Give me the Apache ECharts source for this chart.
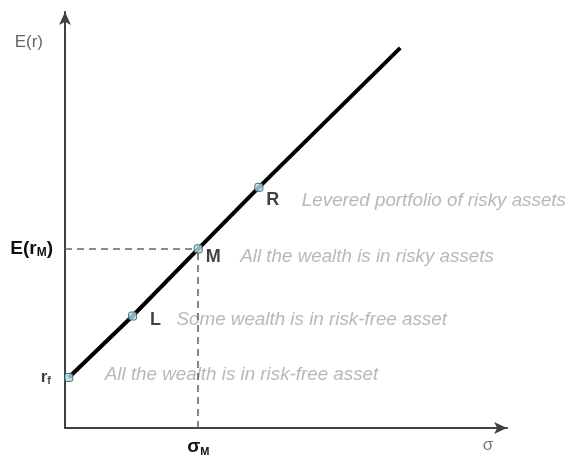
<!DOCTYPE html>
<html>
<head>
<meta charset="utf-8">
<script src="https://cdn.jsdelivr.net/npm/echarts@6/dist/echarts.min.js"></script>
<style>
  html, body { margin: 0; padding: 0; background: #fff; }
  #main { width: 570px; height: 457px; }
</style>
</head>
<body>
<div id="main"></div>
<script>
// capital allocation line: rf -> L -> M -> R -> end of line
const sigma      = [0.06, 1.07, 2.11, 3.07, 5.31];
const expReturn  = [0.79, 1.75, 2.80, 3.76, 5.94];
const pointNames = ['', 'L', 'M', 'R'];
const pointNotes = [
    'All the wealth is in risk-free asset',
    'Some wealth is in risk-free asset',
    'All the wealth is in risky assets',
    'Levered portfolio of risky assets'
];
const marketIdx = 2;

let myChart = echarts.init(document.getElementById('main'));

let linePts = sigma.map((s, i) => [s, expReturn[i]]);
let markerPts = linePts.slice(0, 4);
let mX = sigma[marketIdx], mY = expReturn[marketIdx];

// label nudges (px) so text sits like the original
let letterOffset = [[0, 0], [8, 4], [-2, 8], [-2, 13]];
let noteOffset   = [[31, -3], [39, 4], [37, 8], [38, 13]];

let font = 'Liberation Sans, Arial, sans-serif';
let axisColor = '#404040';

let option = {
    animation: false,
    grid: { left: 65, right: 63, top: 12, bottom: 29, containLabel: false },
    xAxis: {
        type: 'value',
        min: 0, max: 7,
        name: 'σ',
        nameLocation: 'end',
        nameGap: -19,
        nameTextStyle: {
            fontFamily: font, fontSize: 17, color: '#777',
            align: 'center', verticalAlign: 'top', padding: [9, 0, 0, 0]
        },
        axisLine: {
            show: true, symbol: ['none', 'arrow'], symbolSize: [9, 13],
            lineStyle: { color: axisColor, width: 2 }
        },
        axisTick: { show: false },
        axisLabel: { show: false },
        splitLine: { show: false }
    },
    yAxis: {
        type: 'value',
        min: 0, max: 6.5,
        name: 'E(r)',
        nameLocation: 'end',
        nameGap: -30,
        nameTextStyle: {
            fontFamily: font, fontSize: 17, color: '#666',
            align: 'right', verticalAlign: 'middle', padding: [0, 22, 0, 0]
        },
        axisLine: {
            show: true, symbol: ['none', 'arrow'], symbolSize: [9, 13],
            lineStyle: { color: axisColor, width: 2 }
        },
        axisTick: { show: false },
        axisLabel: { show: false },
        splitLine: { show: false }
    },
    series: [
        {
            // the line itself + dashed guides to M
            type: 'line',
            data: linePts,
            showSymbol: false,
            lineStyle: { color: '#000', width: 4 },
            z: 3,
            markLine: {
                silent: true,
                symbol: ['none', 'none'],
                lineStyle: { color: '#666', width: 1.6, type: [7, 5] },
                data: [
                    [
                        { coord: [0, mY],
                          label: {
                              show: true, position: 'start', distance: 12,
                              formatter: '{b|E(r}{s|M}{b|)}',
                              rich: {
                                  b: { fontFamily: font, fontSize: 19, fontWeight: 'bold', color: '#111' },
                                  s: { fontFamily: font, fontSize: 12, fontWeight: 'bold', color: '#111', padding: [8, 0, 0, 0] }
                              }
                          } },
                        { coord: [mX, mY] }
                    ],
                    [
                        { coord: [mX, 0],
                          label: {
                              show: true, position: 'start', distance: 8,
                              formatter: '{b|σ}{s|M}',
                              rich: {
                                  b: { fontFamily: font, fontSize: 19, fontWeight: 'bold', color: '#111' },
                                  s: { fontFamily: font, fontSize: 11, fontWeight: 'bold', color: '#111', padding: [10, 0, 0, 0] }
                              }
                          } },
                        { coord: [mX, mY] }
                    ]
                ]
            }
        },
        {
            // portfolio markers with letters
            type: 'scatter',
            data: markerPts.map((p, i) => ({
                value: p,
                label: { offset: letterOffset[i] }
            })),
            symbol: 'roundRect',
            symbolSize: 8,
            itemStyle: { color: '#a6e0e8', borderColor: '#3a4a4c', borderWidth: 1 },
            z: 5,
            label: {
                show: true, position: 'right',
                formatter: (p) => pointNames[p.dataIndex],
                fontFamily: font, fontSize: 18, fontWeight: 'bold', color: '#111'
            }
        },
        {
            // descriptive notes
            type: 'scatter',
            data: markerPts.map((p, i) => ({
                value: p,
                label: { offset: noteOffset[i] }
            })),
            symbolSize: 0,
            silent: true,
            z: 4,
            label: {
                show: true, position: 'right',
                formatter: (p) => pointNotes[p.dataIndex],
                fontFamily: font, fontSize: 18.8, fontStyle: 'italic', color: '#a6a6a6'
            }
        },
        {
            // r_f tick label at the axis
            type: 'scatter',
            data: [[0, expReturn[0]]],
            symbolSize: 0,
            silent: true,
            label: {
                show: true, position: 'left', distance: 14,
                formatter: '{b|r}{s|f}',
                rich: {
                    b: { fontFamily: font, fontSize: 17, fontWeight: 'bold', color: '#111' },
                    s: { fontFamily: font, fontSize: 11, fontWeight: 'bold', color: '#111', padding: [8, 0, 0, 0] }
                }
            }
        }
    ]
};

myChart.setOption(option);
</script>
</body>
</html>
